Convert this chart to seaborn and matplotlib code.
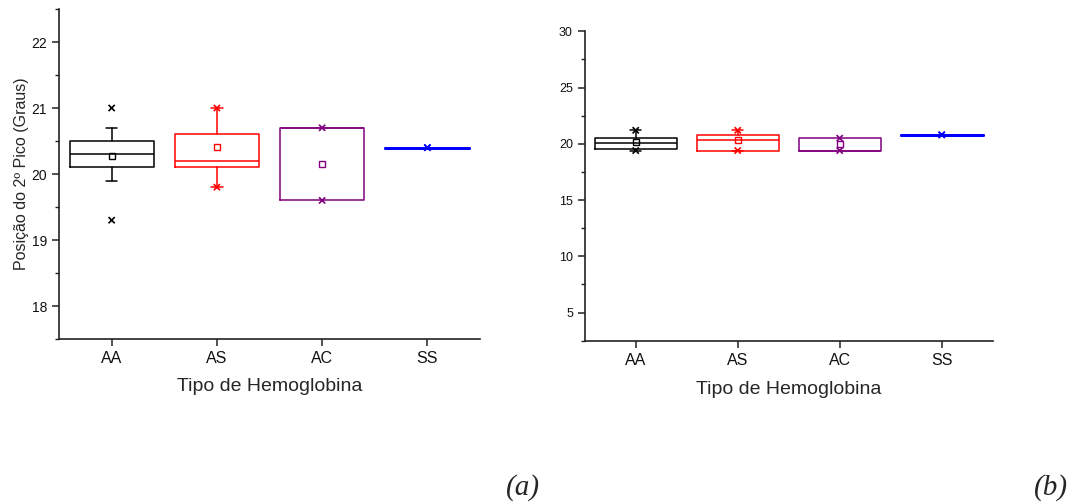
import numpy as np
import matplotlib
matplotlib.use("Agg")
import matplotlib.pyplot as plt
import seaborn as sns
import pandas as pd

# ---------------- data ----------------
categories = ["AA", "AS", "AC", "SS"]
colors = ["#000000", "#FF0000", "#800080", "#0000FF"]

# panel (a)
a_q1 = [20.1, 20.1, 19.6, 20.4]
a_med = [20.3, 20.2, 20.7, 20.4]
a_q3 = [20.5, 20.6, 20.7, 20.4]
a_whislo = [19.9, 19.8, 19.6, 20.4]
a_whishi = [20.7, 21.0, 20.7, 20.4]
a_mean = [20.28, 20.41, 20.15, 20.4]
a_min = [19.3, 19.8, 19.6, 20.4]
a_max = [21.0, 21.0, 20.7, 20.4]

# panel (b)
b_q1 = [19.55, 19.4, 19.4, 20.8]
b_med = [20.06, 20.33, 19.4, 20.8]
b_q3 = [20.5, 20.77, 20.5, 20.8]
b_whislo = [19.4, 19.4, 19.4, 20.8]
b_whishi = [21.2, 21.2, 20.5, 20.8]
b_mean = [20.2, 20.33, 19.94, 20.8]
b_min = [19.4, 19.4, 19.4, 20.8]
b_max = [21.2, 21.2, 20.5, 20.8]

sns.set_theme(style="ticks")
plt.rcParams["font.family"] = ["Liberation Sans", "DejaVu Sans"]

fig = plt.figure(figsize=(10.73, 5.04), dpi=100)
axL = fig.add_axes([59 / 1073, (504 - 339) / 504, (480 - 59) / 1073, (339 - 9) / 504])
axR = fig.add_axes([584.7 / 1073, (504 - 340.7) / 504, (992.7 - 584.7) / 1073, (340.7 - 31.3) / 504])


def draw(ax, q1, med, q3, wlo, whi, mean, vmin, vmax):
    pos = np.arange(len(categories))
    for i, c in enumerate(categories):
        st = [dict(q1=q1[i], med=med[i], q3=q3[i], whislo=wlo[i], whishi=whi[i],
                   mean=mean[i], fliers=[], label=c)]
        lw = 2.0 if c == "SS" else 1.1
        col = colors[i]
        ax.bxp(st, positions=[pos[i]], widths=0.8, showmeans=(c != "SS"),
               showcaps=(c in ("AA", "AS")), capwidths=0.11, manage_ticks=False,
               boxprops=dict(color=col, lw=lw),
               medianprops=dict(color=col, lw=lw),
               whiskerprops=dict(color=col, lw=lw),
               capprops=dict(color=col, lw=lw),
               meanprops=dict(marker="s", markerfacecolor="none", markeredgecolor=col,
                              markersize=4, markeredgewidth=1.0))
    df = pd.DataFrame({"pos": np.concatenate([pos, pos]),
                       "val": np.concatenate([vmin, vmax]),
                       "cat": categories * 2})
    sns.scatterplot(data=df, x="pos", y="val", hue="cat", palette=colors,
                    hue_order=categories, marker="x", s=20, linewidth=1.2,
                    legend=False, ax=ax, zorder=5)
    ax.set_xlim(-0.5, 3.5)
    ax.set_xticks(pos)
    ax.set_xticklabels(categories)
    sns.despine(ax=ax)
    for s in ("left", "bottom"):
        ax.spines[s].set_color("#222222")
        ax.spines[s].set_linewidth(1.2)
    ax.tick_params(axis="both", which="major", direction="out", length=5, width=1.1,
                   color="#222222", labelcolor="#111111")
    ax.tick_params(axis="y", which="minor", direction="out", length=3, width=1.0,
                   color="#222222", left=True)


draw(axL, a_q1, a_med, a_q3, a_whislo, a_whishi, a_mean, a_min, a_max)
axL.set_ylim(17.5, 22.5)
axL.set_yticks([18, 19, 20, 21, 22])
axL.set_yticks(np.arange(17.5, 22.51, 0.5), minor=True)
axL.tick_params(axis="y", labelsize=10)
axL.tick_params(axis="x", labelsize=11.5)
axL.set_xlabel("Tipo de Hemoglobina", fontsize=14, labelpad=9)
axL.set_ylabel("Posição do 2º Pico (Graus)", fontsize=11.5, labelpad=2)

draw(axR, b_q1, b_med, b_q3, b_whislo, b_whishi, b_mean, b_min, b_max)
axR.set_ylim(2.5, 30)
axR.set_yticks([5, 10, 15, 20, 25, 30])
axR.set_yticks(np.arange(2.5, 30.01, 2.5), minor=True)
axR.tick_params(axis="y", labelsize=9)
axR.tick_params(axis="x", labelsize=11.5)
axR.set_xlabel("Tipo de Hemoglobina", fontsize=14, labelpad=10)
axR.set_ylabel("")

fig.text(523 / 1073, 1 - 488 / 504, "(a)", fontsize=21, style="italic",
         family=["Liberation Serif", "DejaVu Serif"], ha="center", va="center")
fig.text(1051 / 1073, 1 - 488 / 504, "(b)", fontsize=21, style="italic",
         family=["Liberation Serif", "DejaVu Serif"], ha="center", va="center")

fig.savefig("out.png", dpi=100)
